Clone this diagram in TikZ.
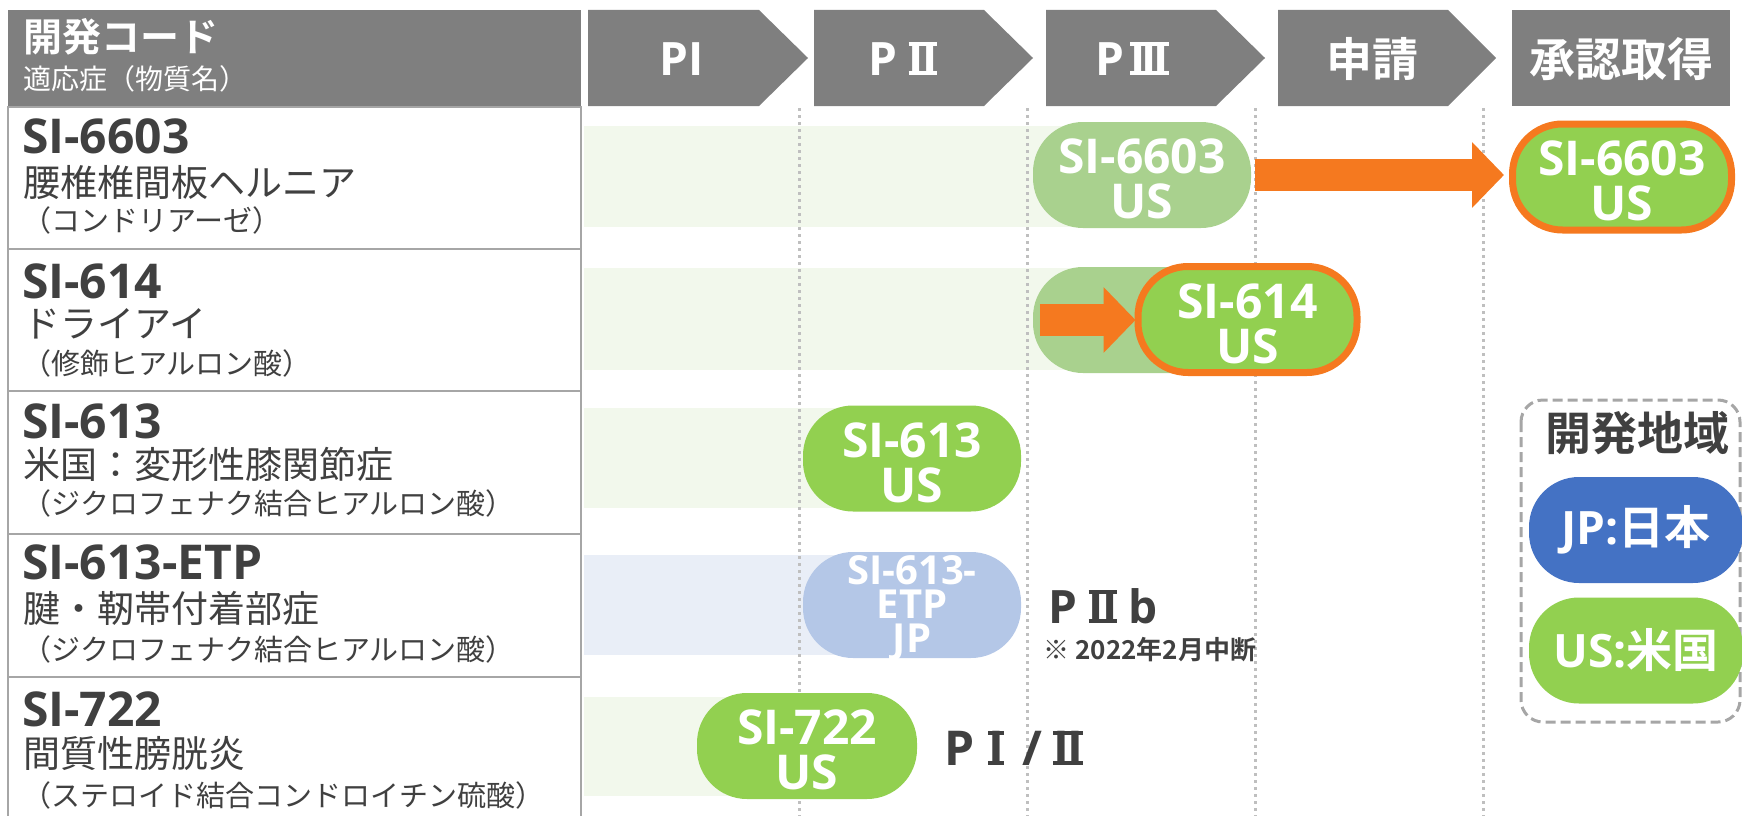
\documentclass[tikz,border=0pt]{standalone}
\usepackage{fontspec}
\setmainfont{Open Sans}
\newfontfamily\jp{Noto Sans CJK JP}[BoldFont={* Bold}]
\usetikzlibrary{arrows.meta,calc}
\definecolor{headgray}{HTML}{7F7F7F}
\definecolor{txt}{HTML}{404040}
\definecolor{bordergray}{HTML}{A6A6A6}
\definecolor{dotgray}{HTML}{BFBFBF}
\definecolor{pgreen}{HTML}{92D050}
\definecolor{plgreen}{HTML}{A9D18E}
\definecolor{plblue}{HTML}{B4C7E7}
\definecolor{pblue}{HTML}{4472C4}
\definecolor{porange}{HTML}{F5791F}
\definecolor{bandg}{HTML}{F2F8EC}
\definecolor{bandb}{HTML}{E9EEF7}
\newsavebox\barbox
\newcommand\barred[1]{\leavevmode\sbox\barbox{#1}%
  \rlap{\rule{\wd\barbox}{0.085em}}%
  \rlap{\rule[\dimexpr\ht\barbox-0.085em\relax]{\wd\barbox}{0.085em}}%
  \usebox\barbox}
\newcommand\romI{\barred{I}}
\newcommand\romII{\barred{I\kern-0.04em I}}
\newcommand\romIII{\barred{I\kern-0.08em I\kern-0.08em I}}
\tikzset{
  hdrtxt/.style={text=white,inner sep=0,anchor=base,font=\bfseries\fontsize{46}{50}\selectfont},
  hdrjp/.style={hdrtxt,font=\jp\bfseries\fontsize{46}{50}\selectfont},
  rowbox/.style={draw=bordergray,line width=2pt,fill=white},
  ttl/.style={text=txt,inner sep=0,anchor=base west,font=\bfseries\fontsize{48}{52}\selectfont},
  sub/.style={text=txt,inner sep=0,anchor=base west,font=\jp\fontsize{37}{40}\selectfont},
  subsub/.style={text=txt,inner sep=0,anchor=base west,font=\jp\fontsize{29}{32}\selectfont},
  dotline/.style={draw=dotgray,line width=3pt,dash pattern=on 3pt off 4pt},
  pill/.style={rounded corners=50pt,minimum width=218pt,minimum height=106pt,inner sep=0},
  opill/.style={pill,draw=porange,line width=7pt,fill=pgreen,minimum width=219pt,minimum height=106pt},
  ptxt/.style={text=white,inner sep=0,align=center,font=\bfseries\fontsize{48}{45}\selectfont},
  bigarrow/.style={draw=porange,line width=32pt,-{Triangle[width=64pt,length=32pt]}},
  phasetxt/.style={text=txt,inner sep=0,anchor=base,font=\bfseries\fontsize{46}{48}\selectfont},
  legbox/.style={draw=bordergray,line width=3pt,dash pattern=on 10pt off 5pt,rounded corners=22pt},
}
\begin{document}
\begin{tikzpicture}[x=1pt,y=-1pt]
\useasboundingbox (0,0) rectangle (1742,816);

% bands
\fill[bandg] (584,126) rectangle (1142,227);
\fill[bandg] (584,268) rectangle (1142,370);
\fill[bandg] (584,408) rectangle (912,508);
\fill[bandb] (584,555) rectangle (912,655);
\fill[bandg] (584,697) rectangle (807,796);

% dotted phase separators
\draw[dotline] (799,108) -- (799,816);
\draw[dotline] (1027,108) -- (1027,816);
\draw[dotline] (1255,108) -- (1255,816);
\draw[dotline] (1483,108) -- (1483,816);

% header
\fill[headgray] (8,10) rectangle (581,106);
\fill[headgray] (588,10) -- (759,10) -- (808,58) -- (759,106) -- (588,106) -- cycle;
\fill[headgray] (814,10) -- (984,10) -- (1033,58) -- (984,106) -- (814,106) -- cycle;
\fill[headgray] (1046,10) -- (1216,10) -- (1265,58) -- (1216,106) -- (1046,106) -- cycle;
\fill[headgray] (1278,10) -- (1448,10) -- (1496,58) -- (1448,106) -- (1278,106) -- cycle;
\fill[headgray] (1512,10) rectangle (1730,106);

\node[text=white,inner sep=0,anchor=base west,font=\jp\bfseries\fontsize{39}{42}\selectfont] (hcode) at (23,52) {開発コード};
\node[text=white,inner sep=0,anchor=base west,font=\jp\fontsize{28}{30}\selectfont] (hind) at (23,89) {適応症（物質名）};
\node[hdrtxt] (hp1) at (682,75) {PI};
\node[hdrtxt] (hp2) at (903,75) {P\kern11pt\romII};
\node[hdrtxt] (hp3) at (1132,75) {P\kern6pt\romIII};
\node[hdrjp] (hp4) at (1372,76) {申請};
\node[hdrjp] (hp5) at (1621,76) {承認取得};

% left column
\draw[rowbox] (8,107) rectangle (581,249);
\draw[rowbox] (8,249) rectangle (581,391);
\draw[rowbox] (8,391) rectangle (581,534);
\draw[rowbox] (8,534) rectangle (581,677);
\draw[rowbox] (8,677) rectangle (581,820);

\node[ttl] (r1t) at (22,153) {SI-6603};
\node[sub] (r1s) at (23,196) {腰椎椎間板ヘルニア};
\node[subsub] (r1p) at (22,231) {（コンドリアーゼ）};
\node[ttl] (r2t) at (22,298) {SI-614};
\node[sub] (r2s) at (23,337) {ドライアイ};
\node[subsub] (r2p) at (22,374) {（修飾ヒアルロン酸）};
\node[ttl] (r3t) at (22,438) {SI-613};
\node[sub] (r3s) at (23,478) {米国：変形性膝関節症};
\node[subsub] (r3p) at (22,514) {（ジクロフェナク結合ヒアルロン酸）};
\node[ttl] (r4t) at (22,579) {SI-613-ETP};
\node[sub] (r4s) at (23,622) {腱・靭帯付着部症};
\node[subsub] (r4p) at (22,660) {（ジクロフェナク結合ヒアルロン酸）};
\node[ttl] (r5t) at (22,726) {SI-722};
\node[sub] (r5s) at (23,767) {間質性膀胱炎};
\node[subsub] (r5p) at (22,806) {（ステロイド結合コンドロイチン硫酸）};

% pills
\node[pill,fill=plgreen] (p1a) at (1142,175) {};
\node[opill] (p1b) at (1622,177) {};
\node[pill,fill=plgreen] (p2a) at (1142,320) {};
\node[opill] (p2b) at (1247.5,319.5) {};
\node[pill,fill=pgreen] (p3) at (912,458.5) {};
\node[pill,fill=plblue] (p4) at (912,605) {};
\node[pill,fill=pgreen,minimum width=220pt] (p5) at (807,746) {};

% arrows
\draw[bigarrow] ($(p1a.east)+(4,0)$) -- ($(p1a.east -| p1b.west)+(-5,0)$);
\draw[bigarrow] ($(p2a.west)+(7,0)$) -- ($(p2a.west -| p2b.west)+(1,0)$);

% pill texts
\node[ptxt] (t1a) at ($(p1a.center)+(0,4)$) {SI-6603\\US};
\node[ptxt] (t1b) at ($(p1b.center)+(0,4)$) {SI-6603\\US};
\node[ptxt] (t2b) at ($(p2b.center)+(0,4)$) {SI-614\\US};
\node[ptxt] (t3) at ($(p3.center)+(0,4)$) {SI-613\\US};
\node[ptxt,font=\bfseries\fontsize{40}{34}\selectfont] (t4) at ($(p4.center)+(0,3)$) {SI-613-\\ETP\\JP};
\node[ptxt] (t5) at ($(p5.center)+(0,4)$) {SI-722\\US};

% phase notes
\node[phasetxt] (n4) at (1103,623) {\makebox[40pt]{P}\makebox[40pt]{\romII}\makebox[40pt]{b}};
\node[text=txt,inner sep=0,font=\jp\bfseries\fontsize{26}{28}\selectfont] (n4b) at (1150,650) {※ 2022年2月中断};
\node[phasetxt,font=\bfseries\fontsize{48}{50}\selectfont] (n5) at (1014,765) {\makebox[36pt]{P}\makebox[36pt]{\romI}\makebox[36pt]{/}\makebox[36pt]{\romII}};

% legend
\draw[legbox] (1521,400) rectangle (1740,722);
\node[text=txt,inner sep=0,font=\jp\bfseries\fontsize{46}{48}\selectfont] (lgt) at (1637,433) {開発地域};
\node[pill,fill=pblue,minimum width=214pt] (ljp) at (1636,530) {};
\node[ptxt,font=\bfseries\fontsize{46}{48}\selectfont] (ljpt) at (ljp.center) {JP:{\jp 日本}};
\node[pill,fill=pgreen,minimum width=214pt] (lus) at (1636,650.5) {};
\node[ptxt,font=\bfseries\fontsize{46}{48}\selectfont] (lust) at (lus.center) {US:{\jp 米国}};
\end{tikzpicture}
\end{document}
